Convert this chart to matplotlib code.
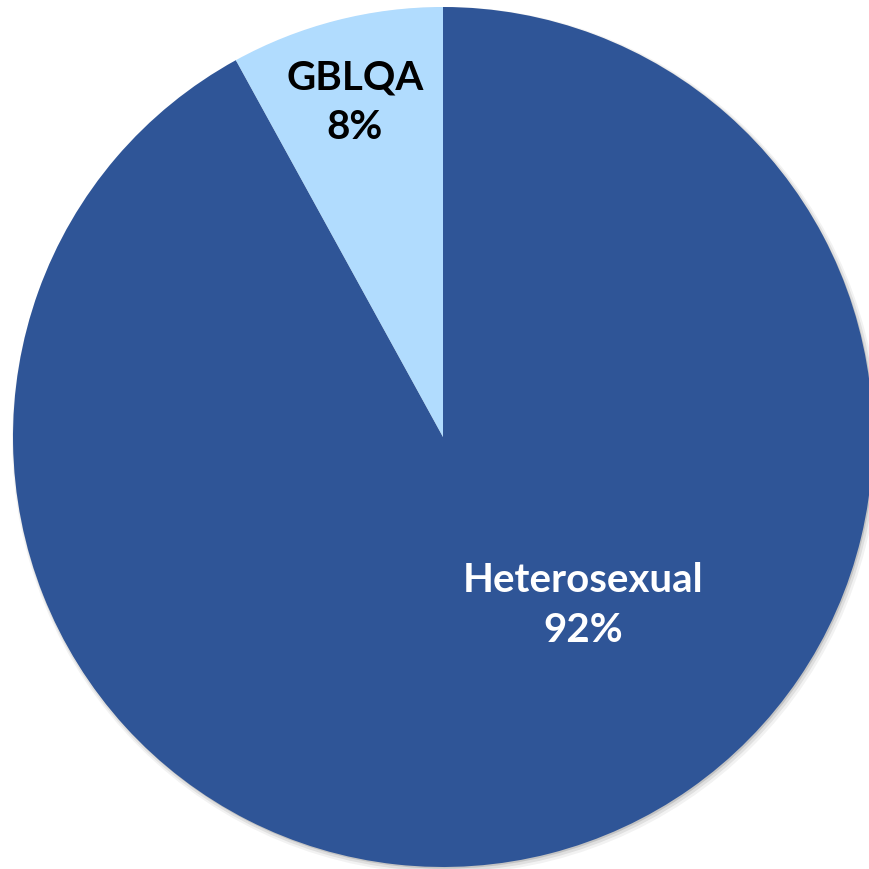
import matplotlib.pyplot as plt
from matplotlib.patches import Circle

labels = ["Heterosexual", "GBLQA"]
values = [92, 8]
colors = ["#2F5597", "#B1DCFE"]
text_colors = ["white", "black"]

fig = plt.figure(figsize=(8.7, 8.69), dpi=100)
ax = fig.add_axes([0, 0, 1, 1])

# soft shadow under the pie
for i, a in enumerate([0.05, 0.08, 0.12]):
    ax.add_patch(Circle((0.006 - i * 0.0015, -0.008 + i * 0.002), 1.0 + 0.004 * (2 - i),
                        color="black", alpha=a, lw=0, zorder=0))

wedges, _ = ax.pie(values, colors=colors, startangle=90, counterclock=False,
                   radius=1.0, wedgeprops=dict(linewidth=0))
for w in wedges:
    w.set_zorder(1)

label_pos = [(0.326, -0.392), (-0.205, 0.777)]
for lab, val, (x, y), tc in zip(labels, values, label_pos, text_colors):
    ax.text(x, y, f"{lab}\n{val}%", ha="center", va="center", color=tc,
            fontsize=29, fontweight="bold", family="Lato", linespacing=1.42, zorder=3)

ax.set_xlim(-443 / 430, (870 - 443) / 430)
ax.set_ylim(-(869 - 437) / 430, 437 / 430)
ax.set_aspect("auto")
ax.axis("off")

plt.savefig("out.png", dpi=100)
